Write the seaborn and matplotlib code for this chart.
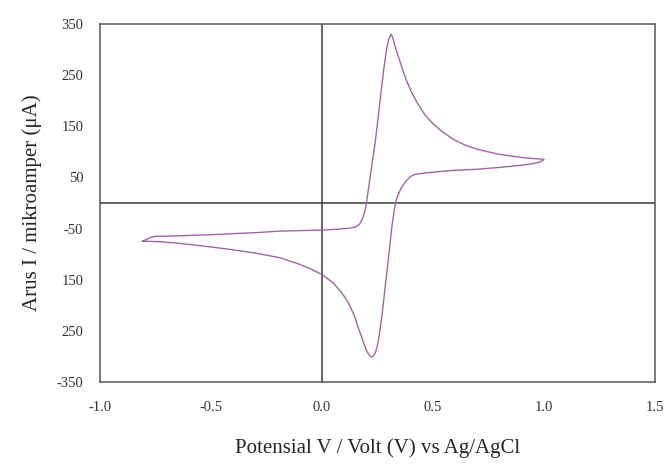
import numpy as np
import pandas as pd
import matplotlib
matplotlib.use('Agg')
import matplotlib.pyplot as plt
import seaborn as sns

# cyclic voltammogram trace (potential V, current uA)
# forward scan: left tip -> anodic peak -> right tip
fwd_potential = [-0.81, -0.79, -0.77, -0.745, -0.70, -0.64, -0.50, -0.40, -0.30, -0.19,
                 -0.10, 0.0, 0.08, 0.12, 0.15, 0.17, 0.185, 0.195, 0.20, 0.21,
                 0.22, 0.23, 0.24, 0.255, 0.268, 0.28, 0.29, 0.30, 0.311, 0.32,
                 0.33, 0.345, 0.36, 0.38, 0.405, 0.43, 0.464, 0.50, 0.54, 0.59,
                 0.645, 0.70, 0.75, 0.80, 0.85, 0.90, 0.95, 0.99, 1.00]
fwd_current = [-75, -71, -67, -65, -65, -64, -62, -60, -58, -55,
               -54, -53, -51, -49.5, -47, -41, -28, -12, 0, 30,
               60, 90, 120, 175, 225, 268, 298, 320, 330, 322,
               305, 285, 265, 240, 215, 195, 172, 155, 140, 125,
               113, 105, 100, 95, 92, 89, 87, 86, 85]
# reverse scan: right tip -> cathodic peak -> left tip
rev_potential = [0.98, 0.95, 0.90, 0.81, 0.70, 0.60, 0.54, 0.47, 0.42, 0.40,
                 0.385, 0.37, 0.355, 0.342, 0.332, 0.325, 0.315, 0.305, 0.295, 0.283,
                 0.27, 0.26, 0.25, 0.24, 0.23, 0.22, 0.21, 0.20, 0.19, 0.175,
                 0.16, 0.147, 0.12, 0.09, 0.05, 0.0, -0.05, -0.10, -0.19, -0.30,
                 -0.41, -0.50, -0.64, -0.72, -0.78, -0.81]
rev_current = [80, 77, 74, 70, 66, 64, 62, 59, 56, 52,
               46, 38, 28, 15, 3, -15, -45, -85, -125, -170,
               -220, -252, -278, -293, -300, -301, -296, -288, -277, -258,
               -240, -222, -196, -176, -156, -140, -129, -120, -107, -98,
               -91, -86, -79, -76, -75, -75]

x_ticks = [-1.0, -0.5, 0.0, 0.5, 1.0, 1.5]
x_labels = ['-1.0', '-0.5', '0.0', '0.5', '1.0', '1.5']
y_ticks = [-350, -250, -150, -50, 50, 150, 250, 350]
y_labels = ['-350', '250', '150', '-50', '50', '150', '250', '350']

df = pd.DataFrame({'potential': fwd_potential + rev_potential,
                   'current': fwd_current + rev_current})

sns.set_style('white')
plt.rcParams['font.family'] = ['Liberation Serif', 'DejaVu Serif']

fig = plt.figure(figsize=(6.64, 4.68), dpi=100)
ax = fig.add_axes([0.1506, 0.1838, 0.8359, 0.7649])

sns.lineplot(data=df, x='potential', y='current', sort=False, estimator=None,
             color='#a064a8', linewidth=1.0, ax=ax)

ax.axhline(0, color='#3a3a3a', linewidth=1.1, zorder=1)
ax.axvline(0, color='#3a3a3a', linewidth=1.1, zorder=1)

ax.set_xlim(-1.0, 1.5)
ax.set_ylim(-350, 350)
ax.set_xticks(x_ticks)
ax.set_xticklabels(x_labels)
ax.set_yticks(y_ticks)
ax.set_yticklabels(y_labels)
ax.set_xticks(np.arange(-0.75, 1.5, 0.5), minor=True)
ax.set_yticks(np.arange(-300, 350, 100), minor=True)
ax.tick_params(which='major', direction='in', length=3, width=0.6, color='#888888',
               labelsize=10.5, labelcolor='#333333')
ax.tick_params(which='minor', direction='in', length=2, width=0.5, color='#aaaaaa')
ax.tick_params(axis='x', pad=14)
ax.tick_params(axis='y', pad=12)

for side in ax.spines.values():
    side.set_color('#555555')
    side.set_linewidth(1.1)

ax.set_xlabel('Potensial V / Volt (V) vs Ag/AgCl', fontsize=15, labelpad=17)
ax.set_ylabel('Arus I / mikroamper (\u03bcA)', fontsize=15, labelpad=20)
ax.yaxis.set_label_coords(-0.105, 0.5)

fig.savefig('out.png', dpi=100)
